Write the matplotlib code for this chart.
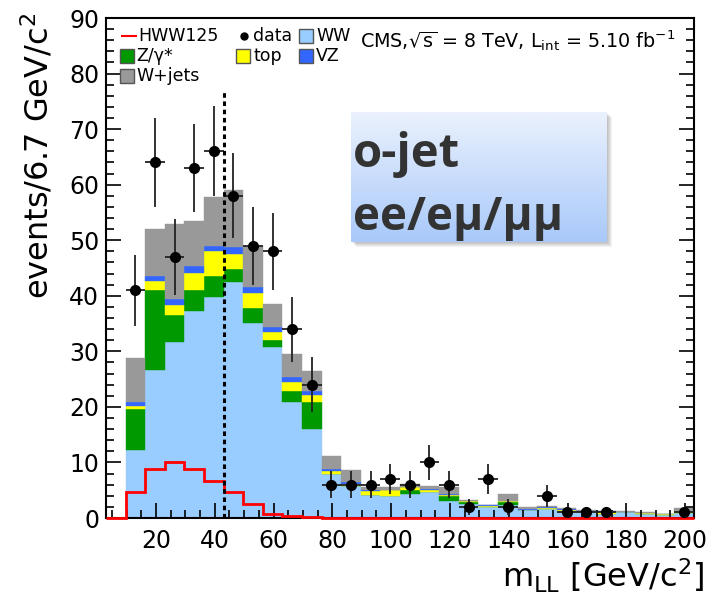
import numpy as np
import matplotlib
matplotlib.use('Agg')
import matplotlib.pyplot as plt
from matplotlib.patches import Rectangle
from matplotlib.lines import Line2D
from matplotlib.colors import LinearSegmentedColormap
from matplotlib.ticker import MultipleLocator

# binning in m_LL (30 bins, 6.7 GeV)
edges = np.linspace(3, 203, 31)

# stacked backgrounds, per bin (bottom to top)
ww = [0, 12.2, 26.7, 31.7, 37.2, 39.8, 42.4, 35.1, 30.7, 20.9, 16.0, 7.9, 5.7, 4.2, 4.0,
      4.4, 4.7, 3.0, 2.6, 2.0, 2.4, 1.4, 1.7, 1.2, 1.0, 0.8, 1.0, 0.8, 0.6, 0.9]
zg = [0, 7.5, 14.4, 4.9, 3.9, 3.8, 2.5, 2.7, 1.4, 1.9, 4.9, 0.1, 0, 0, 0,
      0.7, 0, 1.0, 0.2, 0, 0.5, 0, 0, 0, 0, 0, 0, 0, 0, 0]
top = [0, 0.4, 1.5, 1.7, 3.0, 4.4, 2.7, 2.7, 1.4, 1.6, 1.2, 0.5, 0.5, 0.7, 1.0,
       0.4, 0.4, 0.2, 0.2, 0.2, 0.15, 0.1, 0.1, 0.3, 0.1, 0.3, 0.05, 0.05, 0.05, 0.3]
vz = [0, 0.8, 1.0, 1.2, 1.2, 1.0, 1.2, 1.1, 0.9, 0.9, 0.7, 0.3, 0.3, 0.2, 0.1,
      0.1, 0.2, 0.2, 0.1, 0.1, 0.1, 0.1, 0.2, 0.1, 0.1, 0.1, 0.05, 0.05, 0.05, 0.1]
wjets = [0, 7.9, 8.5, 13.4, 8.2, 8.7, 10.2, 7.4, 4.1, 4.3, 3.7, 2.4, 2.2, 0.5, 0.4,
         0.6, 0.4, 1.1, 0.1, 0.1, 1.15, 0.3, 0.1, 0.2, 0.2, 0.1, 0.1, 0.1, 0.1, 0.5]

# signal (not stacked)
hww = [0, 4.7, 8.9, 10.0, 8.9, 6.7, 4.7, 2.6, 0.8, 0.3, 0.15, 0.05, 0.05, 0.05, 0.05,
       0.05, 0.05, 0.05, 0.05, 0.05, 0.05, 0.05, 0.05, 0.05, 0.05, 0.05, 0.05, 0.05, 0.05, 0.05]

# observed events
data = [0, 41, 64, 47, 63, 66, 58, 49, 48, 34, 24, 6, 6, 6, 7,
        6, 10, 6, 2, 7, 2, 0, 4, 1, 1, 1, 0, 0, 0, 1]

cut_value = 43
cut_top = 76.9

plt.rcParams['font.family'] = 'DejaVu Sans'

W, H = 715, 598
fig = plt.figure(figsize=(W / 100, H / 100), dpi=100)


def fx(px):
    return px / W


def fy(py):
    return 1 - py / H


ax = fig.add_axes([fx(106), fy(518), fx(694) - fx(106), fy(18) - fy(518)])
ax.set_zorder(0)

centers = 0.5 * (edges[:-1] + edges[1:])
width = np.diff(edges)

bottom = np.zeros(len(ww))
stack = [(ww, '#99ccff'), (zg, '#009900'), (top, '#ffff00'), (vz, '#3366ff'), (wjets, '#999999')]
for vals, col in stack:
    vals = np.array(vals)
    ax.bar(edges[:-1], vals, width=width, bottom=bottom, align='edge',
           color=col, edgecolor=col, linewidth=0.3)
    bottom += vals

ax.stairs(hww, edges, color='red', linewidth=2, zorder=3, clip_on=False)

data = np.array(data, dtype=float)
m = data > 0
ax.errorbar(centers[m], data[m], yerr=np.sqrt(data[m]), xerr=width[m] / 2,
            fmt='o', color='black', ecolor='#222222', ms=7, elinewidth=1.3, capsize=0, zorder=4)

ax.vlines(cut_value, 0, cut_top, color='black', linestyles=(0, (1.5, 1.2)), linewidth=2.2, zorder=4)

ax.set_xlim(edges[0], edges[-1])
ax.set_ylim(0, 90)
ax.xaxis.set_major_locator(MultipleLocator(20))
ax.xaxis.set_minor_locator(MultipleLocator(5))
ax.yaxis.set_major_locator(MultipleLocator(10))
ax.yaxis.set_minor_locator(MultipleLocator(2))
ax.tick_params(which='both', direction='in', top=False, right=True, width=1.2)
ax.tick_params(which='major', length=11)
ax.tick_params(which='minor', length=5.5)
ax.tick_params(axis='both', labelsize=17)
ax.tick_params(axis='x', pad=8)
ax.tick_params(axis='y', pad=5)
ax.set_xticks(np.arange(20, 201, 20))
for s in ax.spines.values():
    s.set_linewidth(1.5)

# axis titles
fig.text(fx(704), fy(576), r'm$_{\mathrm{LL}}$ [GeV/c$^{2}$]', ha='right', va='center', fontsize=23)
fig.text(fx(38), fy(13), r'events/6.7 GeV/c$^{2}$', rotation=90, ha='center', va='top', fontsize=23)

# legend, drawn by hand to keep ROOT layout
leg_fs = 12.5


def box(x, y, col):
    fig.add_artist(Rectangle((fx(x), fy(y + 7)), fx(14), 14 / H, facecolor=col,
                             edgecolor='#555555', linewidth=1, transform=fig.transFigure, zorder=3))


fig.add_artist(Line2D([fx(122), fx(136)], [fy(36), fy(36)], color='red', lw=1.5,
                      transform=fig.transFigure, zorder=3))
fig.text(fx(138), fy(36), 'HWW125', va='center', fontsize=leg_fs)
fig.add_artist(Line2D([fx(244)], [fy(36)], marker='o', color='black', ms=5,
                      transform=fig.transFigure, zorder=3))
fig.text(fx(253), fy(36), 'data', va='center', fontsize=leg_fs)
box(299, 36, '#99ccff')
fig.text(fx(316), fy(36), 'WW', va='center', fontsize=leg_fs)
box(120, 56, '#009900')
fig.text(fx(136), fy(56), 'Z/γ*', va='center', fontsize=leg_fs)
box(236, 56, '#ffff00')
fig.text(fx(253), fy(56), 'top', va='center', fontsize=leg_fs)
box(299, 56, '#3366ff')
fig.text(fx(316), fy(56), 'VZ', va='center', fontsize=leg_fs)
box(120, 76, '#999999')
fig.text(fx(136), fy(76), 'W+jets', va='center', fontsize=leg_fs)

fig.text(fx(360), fy(41), r'CMS,$\sqrt{\mathrm{s}}$ = 8 TeV, L$_{\mathrm{int}}$ = 5.10 fb$^{\mathrm{-1}}$',
         va='center', fontsize=13.8)

# label box with gradient and soft shadow
bx0, by0, bx1, by1 = 351, 112, 607, 242
for k in range(1, 6):
    fig.add_artist(Rectangle((fx(bx0 + k), fy(by1 + k)), fx(bx1 - bx0), (by1 - by0) / H,
                             facecolor='black', alpha=0.05, linewidth=0,
                             transform=fig.transFigure, zorder=0.5))
bxax = fig.add_axes([fx(bx0), fy(by1), fx(bx1) - fx(bx0), fy(by0) - fy(by1)])
bxax.set_zorder(1)
cmap = LinearSegmentedColormap.from_list('box', ['#eaf1fd', '#a9c9fa'])
bxax.imshow(np.linspace(0, 1, 100)[:, None], aspect='auto', cmap=cmap,
            extent=[0, 1, 0, 1], origin='upper')
bxax.axis('off')

fig.text(fx(353), fy(167), 'o-jet', fontsize=34, fontweight='bold', family='Open Sans',
         color='#333333', va='baseline', zorder=5)
fig.text(fx(353), fy(230), 'ee/eμ/μμ', fontsize=33, fontweight='bold', family='Open Sans',
         color='#333333', va='baseline', zorder=5)

fig.savefig('out.png', dpi=100)
